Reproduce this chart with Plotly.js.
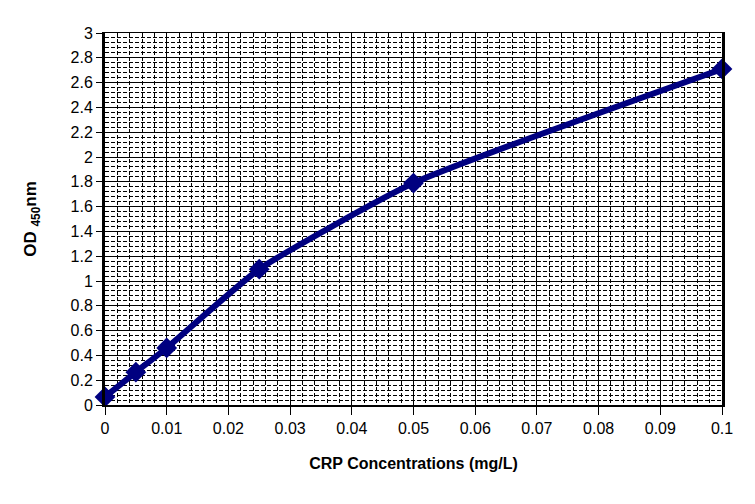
<!DOCTYPE html>
<html><head><meta charset="utf-8">
<script src="https://cdn.plot.ly/plotly-3.0.1.min.js"></script>
<style>body{margin:0;background:#fff}#c{width:755px;height:504px}</style>
</head><body><div id="c"></div>
<script>
const concentrations = [0, 0.005, 0.01, 0.025, 0.05, 0.1];
const odValues = [0.065, 0.265, 0.46, 1.095, 1.79, 2.71];
const xTitle = "CRP Concentrations (mg/L)";
const yTitle = "<b>OD <sub>450</sub>nm</b>";

const trace = {
  x: concentrations, y: odValues, type: 'scatter', mode: 'lines+markers',
  line: {color: '#000080', width: 6, shape: 'spline', smoothing: 0.5},
  marker: {symbol: 'diamond', size: 16, color: '#000080'},
  cliponaxis: false
};
const tickFont = {family: 'Liberation Sans, Arial, sans-serif', size: 16, color: '#000'};
const layout = {
  width: 755, height: 504,
  margin: {l: 105, r: 33, t: 33, b: 99},
  paper_bgcolor: '#fff', plot_bgcolor: '#fff',
  showlegend: false,
  xaxis: {
    range: [0, 0.1], dtick: 0.01, tick0: 0, tickformat: '~g',
    showline: true, linecolor: '#000', linewidth: 1.5, mirror: true,
    showgrid: true, gridcolor: '#000', gridwidth: 1,
    ticks: 'outside', ticklen: 8, tickcolor: '#000',
    minor: {dtick: 0.002, showgrid: true, gridcolor: '#000', griddash: '4px,2px', gridwidth: 1},
    tickfont: tickFont, zeroline: false,
    title: {text: '<b>' + xTitle + '</b>', font: {family: 'Liberation Sans, Arial, sans-serif', size: 16, color: '#000'}, standoff: 22}
  },
  yaxis: {
    range: [0, 3], dtick: 0.2, tick0: 0, tickformat: '~g',
    showline: true, linecolor: '#000', linewidth: 3, mirror: true,
    showgrid: true, gridcolor: '#000', gridwidth: 1,
    ticks: 'outside', ticklen: 6, tickcolor: '#000',
    minor: {dtick: 0.04, showgrid: true, gridcolor: '#000', griddash: '4px,2px', gridwidth: 1},
    tickfont: tickFont, zeroline: false,
    title: {text: yTitle, font: {family: 'Liberation Sans, Arial, sans-serif', size: 17, color: '#000'}, standoff: 30}
  }
};
Plotly.newPlot('c', [trace], layout, {displayModeBar: false, staticPlot: true});
</script></body></html>
